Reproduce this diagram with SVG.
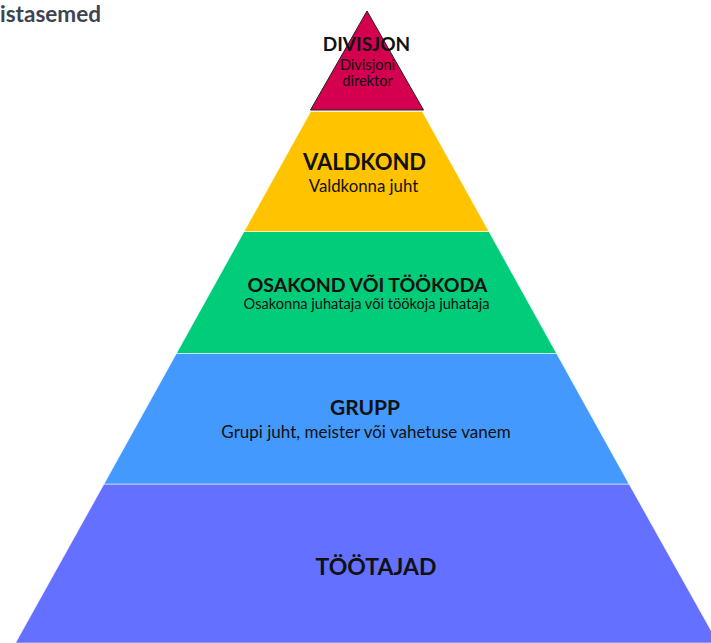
<svg xmlns="http://www.w3.org/2000/svg" width="711" height="643" viewBox="0 0 711 643">
<style>
.t{font-family:Lato,"Noto Sans",sans-serif;fill:#111;text-anchor:middle}
.b{font-weight:700}
.band{stroke:#ffffff;stroke-opacity:0.55;stroke-width:1}
</style>
<rect width="711" height="643" fill="#ffffff"/>
<text x="0" y="22" style="font-family:Lato,'Noto Sans',sans-serif;font-weight:700;font-size:22.5px;fill:#3d4451">istasemed</text>
<g id="level-tootajad">
<polygon class="band" points="104,484 629,484 718,643 15.5,643" fill="#6470ff"/>
<text class="t b" x="376" y="575" font-size="23">TÖÖTAJAD</text>
</g>
<g id="level-grupp">
<polygon class="band" points="176.4,353.5 556.6,353.5 629,484 104,484" fill="#4499ff"/>
<text class="t b" x="365" y="415" font-size="21">GRUPP</text>
<text class="t" x="366" y="438" font-size="17">Grupi juht, meister või vahetuse vanem</text>
</g>
<g id="level-osakond">
<polygon class="band" points="244.1,231.5 488.9,231.5 556.6,353.5 176.4,353.5" fill="#00cc7a"/>
<text class="t b" x="367.5" y="292" font-size="19.5">OSAKOND VÕI TÖÖKODA</text>
<text class="t" x="366.5" y="309" font-size="14.6">Osakonna juhataja või töökoja juhataja</text>
</g>
<g id="level-valdkond">
<polygon class="band" points="310.7,111.5 422.3,111.5 488.9,231.5 244.1,231.5" fill="#ffc300"/>
<text class="t b" x="364.5" y="170" font-size="22">VALDKOND</text>
<text class="t" x="363.5" y="192" font-size="16.8">Valdkonna juht</text>
</g>
<g id="level-divisjon">
<polygon points="367,11 423.5,110 310.5,110" fill="#d4004f" stroke="#222" stroke-width="1"/>
<text class="t b" x="366.5" y="51" font-size="19">DIVISJON</text>
<text class="t" x="367.5" y="69.5" font-size="14.6">Divisjoni</text>
<text class="t" x="367.5" y="86" font-size="14.6">direktor</text>
</g>
<g id="connectors"></g>
</svg>
